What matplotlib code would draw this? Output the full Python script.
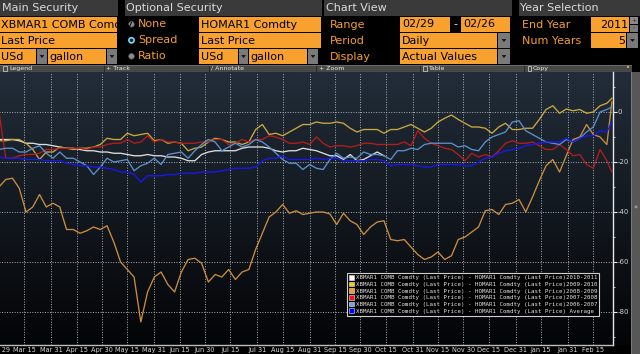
import datetime as dt
import calendar
import matplotlib
matplotlib.use("Agg")
import matplotlib.pyplot as plt
import matplotlib.dates as mdates
from matplotlib.patches import Rectangle, Circle, Polygon, Patch
from matplotlib.ticker import FixedLocator
import numpy as np

plt.rcParams["axes.unicode_minus"] = False
plt.rcParams["font.family"] = ["DejaVu Sans"]

# ---------------- data ----------------
start_date = dt.date(2012, 2, 29)
end_date = dt.date(2013, 2, 26)
obs_day = list(range(0, 361, 4)) + [363]   # days after Feb 29

series_names = ["2010-2011", "2009-2010", "2008-2009", "2007-2008", "2006-2007", " Average"]
label_prefix = "XBMAR1 COMB Comdty (Last Price) - HOMAR1 Comdty (Last Price)"

spread_2010_2011 = [
    -11, -11, -11, -11.5, -12.5, -12.5, -13, -13, -13.5, -14,
    -14.5, -14.5, -15, -15.5, -15.5, -16, -16, -16.5, -16.5, -17,
    -17.5, -17.5, -17, -17.5, -17.5, -18, -18, -18.5, -19.5, -19.5,
    -17, -16, -15.5, -15.5, -15.5, -15.5, -14.5, -14, -14, -14,
    -14.5, -15.5, -16, -15.5, -15.5, -14.5, -15, -15.5, -16.5, -17.5,
    -17.5, -19, -17, -19.5, -19, -17.5, -16, -17.5]

spread_2009_2010 = [
    -11.5, -11.5, -11, -11, -12.5, -15, -19, -16, -16, -14,
    -14.5, -15, -14.5, -14.5, -14, -13, -10.5, -11, -11, -8.5,
    -9.5, -9, -8.5, -11.5, -11, -12.5, -12, -12.5, -15.5, -14.5,
    -14, -12, -10.5, -11, -12, -12, -13, -12, -7, -5,
    -9, -8.5, -9.5, -8, -6.5, -5, -5, -4, -4.5, -4.5,
    -4, -4.5, -6.5, -8, -7, -7, -7, -8.5, -7, -7,
    -6, -5, -6.5, -8, -6.5, -4, -2.5, -1.2, -3, -4.5,
    -6, -6, -6.5, -8.5, -6, -4.5, -7, -7, -6.5, -6.5,
    -3, 1, 2.5, -0.5, 1.2, 0.5, 1, -0.5, 0, 2.5,
    3.5, 5.5]

spread_2008_2009 = [
    -30, -27, -26.5, -30.5, -40, -38, -33, -38, -36.5, -38,
    -47, -47, -48.5, -47.5, -46, -47, -45.5, -52, -60, -63,
    -66, -84, -72, -66, -64, -69, -72, -64, -59, -58.5,
    -60.5, -68, -65, -66, -63, -67, -64, -63, -55, -48.5,
    -42, -40, -37, -40.5, -39.5, -41, -40.5, -40, -40, -40.8,
    -45, -40.5, -43.5, -45, -49, -46, -44, -43.5, -51, -51.5,
    -51, -54, -57, -59, -58, -56, -59, -57.5, -51, -50,
    -48, -46, -39.5, -39, -41, -37, -36.5, -35, -40, -34,
    -27.5, -21.5, -19, -24, -17.5, -11, -10, -5, -9, -10,
    -13, 4]

spread_2007_2008 = [
    0, -18.5, -18.5, -17.5, -17, -17, -16.5, -15, -15, -14.5,
    -14.5, -14.5, -14.5, -15, -14, -14, -13, -12.5, -12.5, -11,
    -12.5, -12, -9.5, -12, -11, -12, -12, -12.5, -12.5, -12.5,
    -12, -12, -11, -11, -13, -12.5, -11, -12, -11, -11,
    -9.5, -10, -11, -12.5, -12.5, -12, -13, -10, -12.5, -14,
    -13.5, -13.5, -14, -13.5, -12.5, -12.5, -13, -13, -13, -13,
    -12, -13.5, -7.5, -10.5, -12.5, -13.5, -14.5, -15, -17, -19.5,
    -16.5, -18, -17, -18, -15.5, -12.5, -11.5, -12.5, -12.5, -12,
    -13.5, -15, -15, -13, -15, -17.5, -17, -21, -22.5, -15,
    -19.5, -24]

spread_2006_2007 = [
    -15, -14.5, -14.5, -16, -16, -14.5, -13.5, -16.5, -18.5, -16,
    -18.5, -18.5, -20, -21.5, -25, -22, -18.5, -20, -19.5, -19,
    -23.5, -21.5, -20.5, -18.5, -21, -17, -16.5, -16, -18.5, -15.5,
    -13, -11, -12, -15.5, -14, -12.5, -14, -13, -11, -12,
    -14, -16.5, -19, -20.5, -20.5, -23, -21, -22.5, -23, -19,
    -16.5, -18.5, -18, -18.5, -16, -17, -17, -17.5, -19, -15.5,
    -15.5, -14.5, -15, -13, -12.5, -12.5, -12.5, -12.5, -14, -13.5,
    -15, -15.5, -12, -10, -9, -8, -4, -3.5, -7.5, -9,
    -10.5, -12, -12.5, -13, -11, -12, -10.5, -8, -6, 0,
    1, 2]

spread_average = [
    -18, -18.5, -18.5, -18.5, -19, -19, -19, -19.5, -19.5, -19.5,
    -20.5, -21, -21.5, -21.5, -22, -22, -22.5, -23, -24, -24,
    -25, -28, -25.5, -25.5, -25.5, -25, -25, -24.5, -24.5, -24.5,
    -24, -24, -24, -23.5, -23, -22.5, -22.5, -22.5, -22, -19.5,
    -18.5, -18.5, -17.5, -19, -19, -19, -19, -18.5, -19, -18.5,
    -18.5, -19.5, -19.5, -19.5, -19.5, -19, -19, -19.5, -21.5, -21,
    -21, -21, -21.5, -22, -22, -21, -21, -21, -21, -21.5,
    -21.5, -20, -18.5, -18, -16.5, -15.5, -15, -14.5, -13.5, -13,
    -12.5, -12, -12, -12, -10.5, -12, -10.5, -9.5, -9.5, -7.5,
    -8, -4]

series_values = [spread_2010_2011, spread_2009_2010, spread_2008_2009,
                 spread_2007_2008, spread_2006_2007, spread_average]
line_colors = ["#dedede", "#c9a83e", "#c98d3e", "#b51c1c", "#5a90cc", "#1818f0"]
legend_colors = ["#ffffff", "#ffcc00", "#ff9a1a", "#ff1010", "#66aaee", "#0000ff"]

y_ticks = [0, -20, -40, -60, -80]

# ---------------- figure / UI chrome ----------------
W, H = 640, 354
fig = plt.figure(figsize=(W / 100, H / 100), dpi=100, facecolor="black")
ui = fig.add_axes([0, 0, 1, 1])
ui.set_xlim(0, W)
ui.set_ylim(H, 0)
ui.axis("off")

ORANGE = "#f8a12f"
LABEL_OR = "#f59f2c"


def box(x0, y0, x1, y1, color, z=1):
    r = Rectangle((x0, y0), x1 - x0, y1 - y0, facecolor=color, edgecolor="none", zorder=z)
    ui.add_patch(r)
    return r


def txt(x, y, s, color, size=8, ha="left", clip=None, **kw):
    t = ui.text(x, y, s, color=color, fontsize=size, ha=ha, va="center", zorder=5, **kw)
    if clip is not None:
        t.set_clip_path(clip)
    return t


def arrow_btn(x0, y0, x1, y1):
    box(x0, y0, x1, y1, "#7a7a7a", z=2)
    cx, cy = (x0 + x1) / 2, (y0 + y1) / 2
    ui.add_patch(Polygon([[cx - 2.3, cy - 1.2], [cx + 2.3, cy - 1.2], [cx, cy + 1.8]],
                         closed=True, facecolor="#111111", edgecolor="none", zorder=3))


# header bars
for x0, x1, lab in [(0, 118, "Main Security"), (125, 322, "Optional Security"),
                    (324, 512, "Chart View"), (519, 640, "Year Selection")]:
    box(x0, 0, x1, 15.5, "#3a3a3a")
    txt(x0 + 1.5, 8, lab, "#dadada", size=8)

r1, r2, r3 = (17, 31.5), (33, 47.5), (49, 63.5)

# main security
b = box(0, r1[0], 117, r1[1], ORANGE)
txt(1, 24.5, "XBMAR1 COMB Comdty", "black", clip=b)
b = box(0, r2[0], 117, r2[1], ORANGE)
txt(1, 40.5, "Last Price", "black", clip=b)
b = box(0, r3[0], 36, r3[1], ORANGE)
txt(1, 56.5, "USd", "black", clip=b)
arrow_btn(37, r3[0], 47, r3[1])
b = box(48, r3[0], 106, r3[1], ORANGE)
txt(49, 56.5, "gallon", "black", clip=b)
arrow_btn(107, r3[0], 117, r3[1])

# optional security radios
for cy, lab, sel in [(24.3, "None", False), (40.3, "Spread", True), (56.3, "Ratio", False)]:
    if sel:
        ui.add_patch(Circle((131.5, cy), 2.6, facecolor="#0a2a38", edgecolor="#86d4ee", lw=1.2, zorder=3))
    else:
        ui.add_patch(Circle((131.5, cy), 2.8, facecolor="#8c8c8c", edgecolor="#5a5a5a", lw=0.5, zorder=3))
    txt(138, cy, lab, LABEL_OR)

b = box(199, r1[0], 321, r1[1], ORANGE)
txt(201, 24.5, "HOMAR1 Comdty", "black", clip=b)
b = box(199, r2[0], 321, r2[1], ORANGE)
txt(201, 40.5, "Last Price", "black", clip=b)
b = box(199, r3[0], 238, r3[1], ORANGE)
txt(201, 56.5, "USd", "black", clip=b)
arrow_btn(239, r3[0], 248, r3[1])
b = box(249, r3[0], 307, r3[1], ORANGE)
txt(250, 56.5, "gallon", "black", clip=b)
arrow_btn(308, r3[0], 318, r3[1])

# chart view
txt(330, 24.5, "Range", LABEL_OR)
txt(330, 40.5, "Period", LABEL_OR)
txt(330, 56.5, "Display", LABEL_OR)
b = box(400, r1[0], 450, r1[1], ORANGE)
txt(402, 24.5, "02/29", "black", clip=b)
txt(455.5, 24.5, "-", "#e8e8e8", ha="center")
b = box(461, r1[0], 510, r1[1], ORANGE)
txt(463, 24.5, "02/26", "black", clip=b)
b = box(400, r2[0], 497, r2[1], ORANGE)
txt(402, 40.5, "Daily", "black", clip=b)
arrow_btn(498, r2[0], 510, r2[1])
b = box(400, r3[0], 497, r3[1], ORANGE)
txt(402, 56.5, "Actual Values", "black", clip=b)
arrow_btn(498, r3[0], 510, r3[1])

# year selection
txt(522, 24.5, "End Year", LABEL_OR)
txt(522, 40.5, "Num Years", LABEL_OR)
b = box(591, r1[0], 629, r1[1], ORANGE)
txt(628, 24.5, "2011", "black", ha="right", clip=b)
box(630, r1[0], 638, 24, "#8a8a8a", z=2)
box(630, 24.5, 638, r1[1], "#7a7a7a", z=2)
txt(634, 20.5, "+", "#222222", size=4.5, ha="center")
txt(634, 28, "-", "#222222", size=4.5, ha="center")
b = box(591, r2[0], 626, r2[1], ORANGE)
txt(625, 40.5, "5", "black", ha="right", clip=b)
arrow_btn(627, r2[0], 638, r2[1])

# toolbar strip
box(0, 64.5, 632, 72, "#484848")
box(0, 64.5, 632, 65.5, "#6a6a6a", z=2)
for sx in [104, 209, 316, 420, 524]:
    box(sx, 65.5, sx + 0.8, 72, "#2a2a2a", z=3)
ui.add_patch(Rectangle((3, 66.3), 4.2, 4.2, facecolor="none", edgecolor="#dddddd", lw=0.5, zorder=4))
txt(9.5, 68.5, "Legend", "#eeeeee", size=4.5)
txt(106, 68.5, "+ Track", "#eeeeee", size=4.5)
txt(211, 68.5, "/ Annotate", "#eeeeee", size=4.5)
txt(319, 68.5, "+ Zoom", "#eeeeee", size=4.5)
ui.add_patch(Rectangle((423, 66.3), 4.2, 4.2, facecolor="none", edgecolor="#dddddd", lw=0.5, zorder=4))
txt(429, 68.5, "Table", "#eeeeee", size=4.5)
ui.add_patch(Rectangle((527.5, 66.3), 3.2, 4.2, facecolor="none", edgecolor="#dddddd", lw=0.5, zorder=4))
txt(533, 68.5, "Copy", "#eeeeee", size=4.5)
box(626.5, 65.8, 629, 68, "#f0a020", z=4)

# chart background gradient
top_c = np.array([34, 45, 57]) / 255.0
bot_c = np.array([3, 4, 6]) / 255.0
tt = np.linspace(0, 1, 256)[:, None]
grad = (top_c[None, :] * (1 - tt) + bot_c[None, :] * tt)[:, None, :]
ui.imshow(grad, extent=[0, 631, 345, 72], aspect="auto", origin="upper", zorder=0,
          interpolation="bilinear")

# scroll column at right
box(631, 72, 640, 354, "#575757")
box(631, 72, 632, 354, "#7a7a7a", z=2)
txt(635.5, 207, "\u00ab", "#d0d0d0", size=5, ha="center")

# ---------------- chart axes ----------------
ax = fig.add_axes([-1 / W, 9 / H, 614 / W, 273 / H])
ax.set_facecolor("none")

x_dates = [start_date + dt.timedelta(days=d) for d in obs_day]
for vals, col in zip(series_values, line_colors):
    ax.plot(x_dates[:len(vals)], vals, color=col, lw=0.95, solid_joinstyle="round", zorder=3)

x0 = mdates.date2num(start_date)
ax.set_xlim(x0, x0 + 363.66)
ax.set_ylim(-93.2, 16)

tick_dates = [start_date]
for yy, mm in [(2012, m) for m in range(3, 13)] + [(2013, 1), (2013, 2)]:
    for dd in (15, calendar.monthrange(yy, mm)[1]):
        d = dt.date(yy, mm, dd)
        if d <= end_date:
            tick_dates.append(d)
ax.set_xticks([mdates.date2num(d) for d in tick_dates])
ax.xaxis.set_major_formatter(mdates.DateFormatter("%b %d"))

ax.yaxis.tick_right()
ax.set_yticks(y_ticks)
ax.set_yticklabels([str(v) for v in y_ticks])
ax.yaxis.set_minor_locator(FixedLocator([10, -10, -30, -50, -70, -90]))

ax.tick_params(axis="x", length=0, pad=1.6, labelsize=4.7, labelcolor="#d8d8d8")
ax.tick_params(axis="y", which="major", colors="#e6e6e6", labelcolor="#d0d0d0",
               length=2.6, width=0.8, pad=1, labelsize=5)
ax.tick_params(axis="y", which="minor", colors="#e6e6e6", length=1.4, width=0.6)
ax.grid(True, which="major", color="#aab0b6", lw=0.7, linestyle=(0, (1, 1.6)), zorder=1)

for s in ["left", "top"]:
    ax.spines[s].set_visible(False)
ax.spines["right"].set_color("#e8e8e8")
ax.spines["right"].set_linewidth(1.0)
ax.spines["bottom"].set_color("#bdbdbd")
ax.spines["bottom"].set_linewidth(1.0)

handles = [Patch(facecolor=c, edgecolor="#f0f0f0", linewidth=0.4) for c in legend_colors]
labels = [label_prefix + n for n in series_names]
leg = ax.legend(handles, labels, loc="upper left", bbox_to_anchor=(347 / W, 1 - 273 / H),
                bbox_transform=fig.transFigure, prop={"family": "DejaVu Sans Mono", "size": 4.15},
                frameon=True, facecolor="black", edgecolor="#cfcfcf", framealpha=1, fancybox=False,
                borderpad=0.35, labelspacing=0.22, handlelength=0.9, handleheight=0.9,
                handletextpad=0.25, borderaxespad=0)
leg.get_frame().set_linewidth(0.8)
for t in leg.get_texts():
    t.set_color("#e6e6e6")

fig.savefig("out.png", dpi=100, facecolor="black")
